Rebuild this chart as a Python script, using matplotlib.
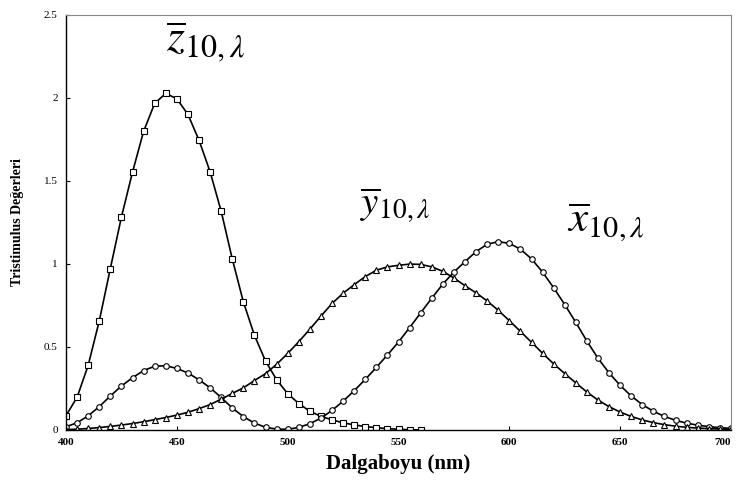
import numpy as np
import matplotlib
matplotlib.use("Agg")
import matplotlib.pyplot as plt

plt.rcParams["font.family"] = ["Liberation Serif", "DejaVu Serif"]
plt.rcParams["mathtext.fontset"] = "stix"

# CIE 1964 10 degree colour matching functions, 5 nm steps
wl = np.arange(400, 705, 5)
x_bar = [0.019110, 0.043400, 0.084736, 0.140638, 0.204492, 0.264737, 0.314679,
         0.357719, 0.383734, 0.386726, 0.370702, 0.342957, 0.302273, 0.254085,
         0.195618, 0.132349, 0.080507, 0.041072, 0.016172, 0.005132, 0.003816,
         0.015444, 0.037465, 0.071358, 0.117749, 0.172953, 0.236491, 0.304213,
         0.376772, 0.451584, 0.529826, 0.616053, 0.705224, 0.793832, 0.878655,
         0.951162, 1.014160, 1.074300, 1.118520, 1.134300, 1.123990, 1.089100,
         1.030480, 0.950740, 0.856297, 0.754930, 0.647467, 0.535110, 0.431567,
         0.343690, 0.268329, 0.204300, 0.152568, 0.112210, 0.081261, 0.057930,
         0.040851, 0.028623, 0.019941, 0.013842, 0.009577]
y_bar = [0.002004, 0.004509, 0.008756, 0.014456, 0.021391, 0.029497, 0.038676,
         0.049602, 0.062077, 0.074704, 0.089456, 0.106256, 0.128201, 0.152761,
         0.185190, 0.219940, 0.253589, 0.297665, 0.339133, 0.395379, 0.460777,
         0.531360, 0.606741, 0.685660, 0.761757, 0.823330, 0.875211, 0.923810,
         0.961988, 0.982200, 0.991761, 0.999110, 0.997340, 0.982380, 0.955552,
         0.915175, 0.868934, 0.825623, 0.777405, 0.720353, 0.658341, 0.593878,
         0.527963, 0.461834, 0.398057, 0.339554, 0.283493, 0.228254, 0.179828,
         0.140211, 0.107633, 0.081187, 0.060281, 0.044096, 0.031800, 0.022602,
         0.015905, 0.011130, 0.007749, 0.005375, 0.003718]
wl_z = np.arange(400, 565, 5)
z_bar = [0.086011, 0.197120, 0.389366, 0.656760, 0.972542, 1.282500, 1.553480,
         1.798500, 1.967280, 2.027300, 1.994800, 1.900700, 1.745370, 1.554900,
         1.317560, 1.030200, 0.772125, 0.570060, 0.415254, 0.302356, 0.218502,
         0.159249, 0.112044, 0.082248, 0.060709, 0.043050, 0.030451, 0.020584,
         0.013676, 0.007918, 0.003988, 0.001091, 0.000000]

x_ticks = [400, 450, 500, 550, 600, 650, 700]
y_ticks = [0, 0.5, 1, 1.5, 2, 2.5]
y_ticklabels = ["0", "0.5", "1", "1.5", "2", "2.5"]

fig = plt.figure(figsize=(7.36, 4.82), dpi=100)
ax = fig.add_axes([0.0897, 0.108, 0.9035, 0.861])

style = dict(color="black", lw=1.2, markerfacecolor="white",
             markeredgecolor="black", markeredgewidth=0.8)
ax.plot(wl_z, z_bar, marker="s", markersize=4, **style)
ax.plot(wl, x_bar, marker="o", markersize=4, **style)
ax.plot(wl, y_bar, marker="^", markersize=4, **style)

ax.set_xlim(400, 700)
ax.set_ylim(0, 2.5)
ax.set_xticks(x_ticks)
ax.set_xticklabels([str(t) for t in x_ticks], fontsize=8, fontweight="bold")
# last label would run off the figure edge, nudge it inward
ax.get_xticklabels()[-1].set_horizontalalignment("right")
ax.set_yticks(y_ticks)
ax.set_yticklabels(y_ticklabels, fontsize=8)
ax.tick_params(direction="in", length=3, width=0.8, pad=6)
for s in ["top", "right"]:
    ax.spines[s].set_color("#888888")
for s in ["left", "bottom"]:
    ax.spines[s].set_linewidth(1.0)

ax.set_xlabel("Dalgaboyu (nm)", fontsize=15, fontweight="bold", labelpad=5)
ax.set_ylabel("Tristimulus Değerleri", fontsize=10, fontweight="bold", labelpad=14)

ax.text(462.8, 2.34, r"$\overline{z}_{10,\lambda}$", fontsize=33, ha="center", va="center")
ax.text(548.6, 1.355, r"$\overline{y}_{10,\lambda}$", fontsize=28, ha="center", va="center")
ax.text(643.5, 1.253, r"$\overline{x}_{10,\lambda}$", fontsize=31, ha="center", va="center")

plt.savefig("out.png", dpi=100)
